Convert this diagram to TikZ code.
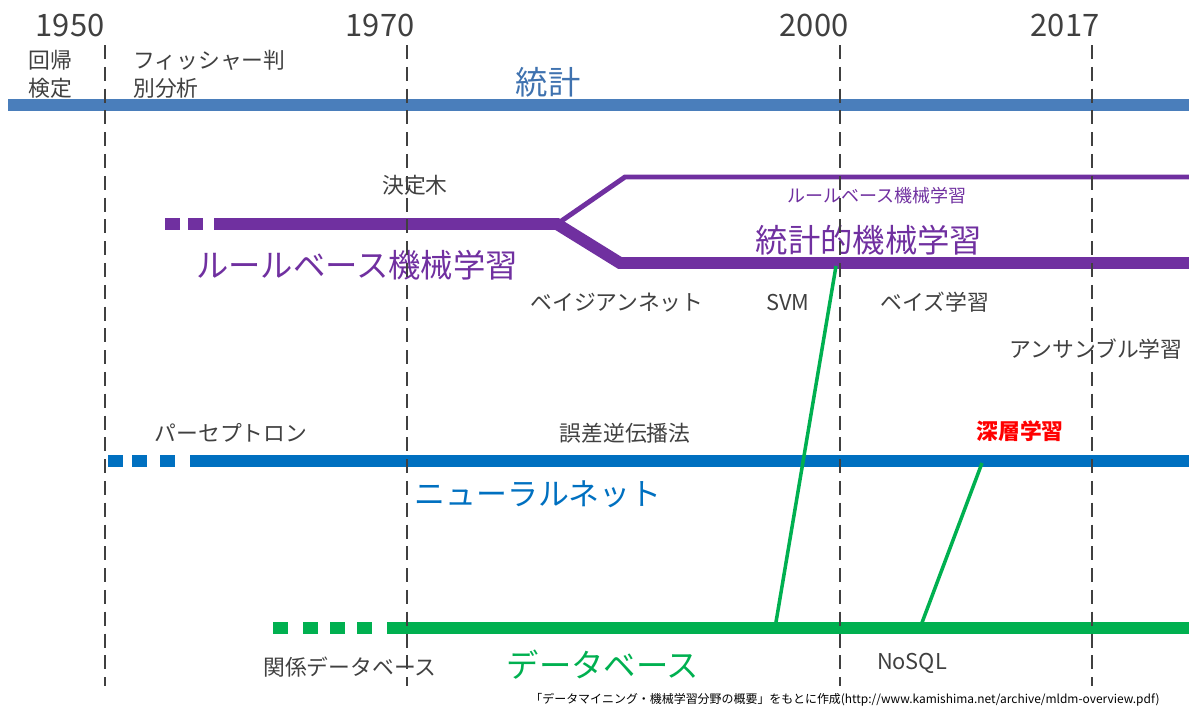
\documentclass[tikz,border=0pt]{standalone}
\usepackage{fontspec}
\setmainfont{Noto Sans CJK JP}
\usetikzlibrary{positioning}
\definecolor{statblue}{HTML}{4A7EBB}
\definecolor{stattext}{HTML}{3F72AF}
\definecolor{rulepurple}{HTML}{7030A0}
\definecolor{nnblue}{HTML}{0070C0}
\definecolor{dbgreen}{HTML}{00B050}
\definecolor{textgray}{HTML}{404040}

\begin{document}
\begin{tikzpicture}[
    x=0.025cm, y=-0.025cm,
    yearlabel/.style={text=textgray, inner sep=0pt, font=\fontsize{22}{24}\selectfont},
    note/.style={text=textgray, inner sep=0pt, font=\fontsize{15.5}{19.8}\selectfont},
    bigtitle/.style={inner sep=0pt, font=\fontsize{23}{25}\selectfont},
    eraline/.style={line width=8.5pt},
    thinbranch/.style={line width=3.5pt},
    datalink/.style={dbgreen, line width=2.5pt},
    yearline/.style={textgray, line width=2.1pt, dash pattern=on 10pt off 5.5pt}
]
    \useasboundingbox (0,0) rectangle (1189,710);

    % years
    \node[yearlabel] (y1950) at (70,25) {1950};
    \node[yearlabel] (y1970) at (380,25) {1970};
    \node[yearlabel] (y2000) at (814,25) {2000};
    \node[yearlabel] (y2017) at (1065,25) {2017};

    % statistics
    \coordinate (stat-start) at (8,105);
    \coordinate (stat-end) at (1189,105);
    \draw[eraline, statblue] (stat-start) -- (stat-end);
    \node[bigtitle, text=stattext] (stat) at (548,82) {統計};
    \node[note, align=center] (regress) at (50,74) {回帰\\検定};
    \node[note, align=left, anchor=west] (fisher) at (133,74) {フィッシャー判\\別分析};

    % rule based / statistical machine learning
    \coordinate (rule-start) at (214,224);
    \coordinate (rule-fork) at (557,224);
    \coordinate (sml-bend) at (620,263);
    \coordinate (sml-end) at (1189,263);
    \coordinate (rb-bend) at (625,177);
    \coordinate (rb-end) at (1189,177);
    \foreach \x in {165,188}
        \draw[eraline, rulepurple] (\x,224) -- ++(15,0);
    \draw[eraline, rulepurple] (rule-start) -- (rule-fork) -- (sml-bend) -- (sml-end);
    \draw[thinbranch, rulepurple] (rule-fork) -- (rb-bend) -- (rb-end);
    \node[bigtitle, text=rulepurple] (rule) at (357,265) {ルールベース機械学習};
    \node[inner sep=0pt, text=rulepurple, font=\fontsize{12.8}{14}\selectfont] (rule-small) at (877,196) {ルールベース機械学習};
    \node[bigtitle, text=rulepurple] (sml) at (869,240) {統計的機械学習};
    \node[note] (tree) at (415,185) {決定木};
    \node[note] (bayesnet) at (617,303) {ベイジアンネット};
    \node[note] (svm) at (788,303) {SVM};
    \node[note] (bayes) at (935,302) {ベイズ学習};
    \node[note] (ensemble) at (1096,349) {アンサンブル学習};

    % neural networks
    \coordinate (nn-start) at (190,461);
    \coordinate (nn-end) at (1189,461);
    \foreach \x in {108,132,160}
        \draw[eraline, nnblue] (\x,461) -- ++(15,0);
    \draw[eraline, nnblue] (nn-start) -- (nn-end);
    \node[bigtitle, text=nnblue, font=\fontsize{22}{24}\selectfont] (nn) at (538,494) {ニューラルネット};
    \node[note] (perceptron) at (231,433) {パーセプトロン};
    \node[note] (backprop) at (625,433) {誤差逆伝播法};
    \node[note, text=red, font=\fontsize{15.5}{19.8}\selectfont\bfseries] (deep) at (1020,431) {深層学習};

    % databases
    \coordinate (db-start) at (387,628);
    \coordinate (db-end) at (1189,628);
    \foreach \x in {273,303,330,357}
        \draw[eraline, dbgreen] (\x,628) -- ++(15,0);
    \draw[eraline, dbgreen] (db-start) -- (db-end);
    \node[bigtitle, text=dbgreen] (db) at (603,665) {データベース};
    \node[note] (rdb) at (350,667) {関係データベース};
    \node[note] (nosql) at (912,663) {NoSQL};

    % links from databases
    \coordinate (svm-foot) at (775,628);
    \coordinate (svm-top) at (836,266);
    \coordinate (dl-foot) at (920,628);
    \coordinate (dl-top) at (982,463);
    \draw[datalink] (svm-foot) -- (svm-top);
    \draw[datalink] (dl-foot) -- (dl-top);

    % year lines
    \foreach \x in {105,407,840,1092}
        \draw[yearline] (\x,45) -- (\x,686);

    \node[inner sep=0pt, text=black, font=\fontsize{8.5}{10}\selectfont] (source) at (845,700)
        {「データマイニング・機械学習分野の概要」をもとに作成(http://www.kamishima.net/archive/mldm-overview.pdf)};
\end{tikzpicture}
\end{document}
